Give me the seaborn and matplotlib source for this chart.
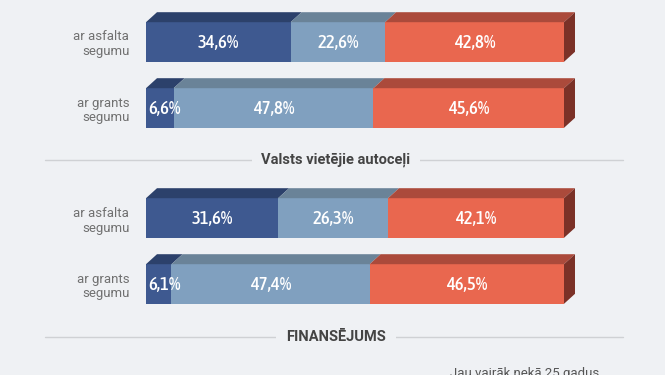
import matplotlib
matplotlib.use("Agg")
import pandas as pd
import matplotlib.pyplot as plt
from matplotlib import font_manager
from matplotlib.patches import Polygon
from matplotlib.lines import Line2D
import seaborn as sns

categories = ["ar asfalta\nsegumu", "ar grants\nsegumu"]
# Valsts galvenie autoceļi (top group)
main_dark = [34.6, 6.6]
main_light = [22.6, 47.8]
main_red = [42.8, 45.6]
# Valsts vietējie autoceļi
local_dark = [31.6, 6.1]
local_light = [26.3, 47.4]
local_red = [42.1, 46.5]

bg = "#eff1f4"
front = ["#3e5990", "#80a0bf", "#e9674f"]
topc = ["#2c416b", "#6a8398", "#ab4a3b"]
side = "#7b3127"

# look for a condensed face if one is installed (prefer regular/medium weight)
cond = [f for f in font_manager.fontManager.ttflist
        if ("Condensed" in f.name or "Narrow" in f.name or f.stretch in ("condensed", "semi-condensed"))
        and f.style == "normal"]


def weight_of(f):
    w = f.weight
    if isinstance(w, str):
        w = {"normal": 400, "regular": 400, "medium": 500, "bold": 700, "light": 300}.get(w, 400)
    return w


cond.sort(key=lambda f: abs(weight_of(f) - 500))
cond_props = dict(family="Roboto")
if cond:
    cond_props = dict(fname=cond[0].fname)

sns.set_theme(style="white")
fig = plt.figure(figsize=(6.65, 3.75), dpi=100, facecolor=bg)
W, H = 665, 375


def px_axes(left, top, right, bottom):
    return fig.add_axes([left / W, 1 - bottom / H, (right - left) / W, (bottom - top) / H])


def draw_group(ax, dark, light, red):
    df = pd.DataFrame({"cat": categories, "dark": dark, "light": light, "red": red})
    cums = df[["dark", "light", "red"]].cumsum(axis=1)
    # overdraw: longest (cumulative) bar first
    for col, c in zip(["red", "light", "dark"], front[::-1]):
        sns.barplot(x=cums[col], y=df["cat"], color=c, orient="h", width=0.6,
                    saturation=1, errorbar=None, linewidth=0, edgecolor="none", ax=ax)
    ax.set_xlim(0, 100)
    ax.set_ylim(1.5, -0.5)
    bb = ax.get_window_extent()
    dx = 11 * 100 / bb.width
    dy = 10 * 2 / bb.height
    h = 0.3
    for i in range(len(categories)):
        start = 0
        for j, col in enumerate(["dark", "light", "red"]):
            v = df[col][i]
            a, b = start, start + v
            ax.add_patch(Polygon([(a, i - h), (b, i - h), (b + dx, i - h - dy), (a + dx, i - h - dy)],
                                 closed=True, facecolor=topc[j], edgecolor="none", clip_on=False))
            lab = f"{v:.1f}".replace(".", ",") + "%"
            fp = font_manager.FontProperties(size=13.5, **cond_props)
            if v < 10:
                ax.text(a + 0.5, i + 0.02, lab, ha="left", va="center", color="white", fontproperties=fp)
            else:
                ax.text((a + b) / 2, i + 0.02, lab, ha="center", va="center", color="white", fontproperties=fp)
            start = b
        ax.add_patch(Polygon([(100, i - h), (100 + dx, i - h - dy), (100 + dx, i + h - dy), (100, i + h)],
                             closed=True, facecolor=side, edgecolor="none", clip_on=False))
    ax.set_xlabel("")
    ax.set_ylabel("")
    ax.set_xticks([])
    ax.tick_params(axis="y", length=0, pad=12, labelsize=9.5, labelcolor="#707070")
    for t in ax.get_yticklabels():
        t.set_family("Roboto")
    sns.despine(ax=ax, left=True, bottom=True)
    ax.set_facecolor("none")


ax1 = px_axes(146, 9, 564, 141)
draw_group(ax1, main_dark, main_light, main_red)
ax2 = px_axes(146, 185, 564, 317)
draw_group(ax2, local_dark, local_light, local_red)


def separator(y, label):
    fig.add_artist(Line2D([45 / W, 623 / W], [1 - y / H, 1 - y / H], color="#cfd1d4", lw=1))
    fig.text(336 / W, 1 - y / H, label, ha="center", va="center", fontsize=10.5, fontweight="bold",
             color="#444", family="Roboto", bbox=dict(facecolor=bg, edgecolor="none", pad=7))


separator(160, "Valsts vietējie autoceļi")
separator(337, "FINANSĒJUMS")
fig.text(525 / W, 1 - 367 / H, "Jau vairāk nekā 25 gadus", ha="center", va="top", fontsize=9.5,
         color="#555", family="Roboto")

fig.savefig("out.png", dpi=100, facecolor=bg)
